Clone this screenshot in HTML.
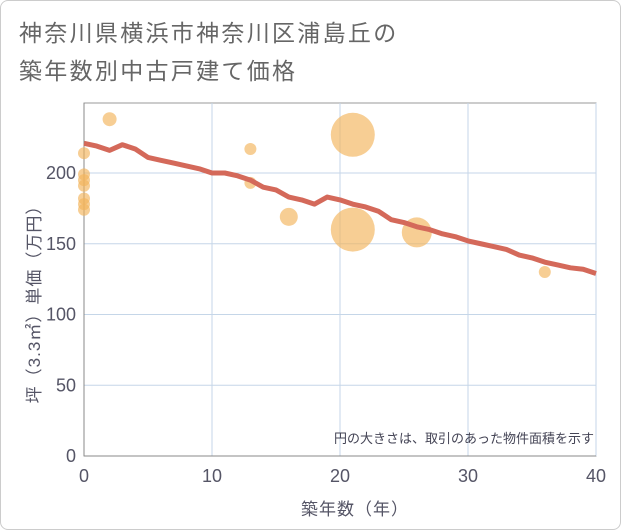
<!DOCTYPE html>
<html><head><meta charset="utf-8"><style>
body{margin:0;background:#fff;}
.wrap{width:619px;height:528px;border:1px solid #ccc;border-radius:8px;position:relative;overflow:hidden;font-family:"Liberation Sans","Noto Sans CJK JP",sans-serif;}
.title{position:absolute;left:18px;top:13px;font-size:23px;letter-spacing:2.3px;line-height:38px;color:#666;}
</style></head><body>
<div class="wrap">
<div class="title">神奈川県横浜市神奈川区浦島丘の<br>築年数別中古戸建て価格</div>
<svg id="chart" width="621" height="530" style="position:absolute;left:-1px;top:-1px"></svg>
</div>
<script>
const xTicks=[0,10,20,30,40];
const yTicks=[0,50,100,150,200];
const bubbleYears=[0,0,0,0,0,0,0,2,13,13,16,21,21,26,36];
const bubblePrices=[214,199,195,191,182,178,174,238,217,193,169,227,160,158,130];
const bubbleSizes=[6,6,6,6,6,6,6,7,6,6,9,22,22,15,6];
const lineYears=[0,1,2,3,4,5,6,7,8,9,10,11,12,13,14,15,16,17,18,19,20,21,22,23,24,25,26,27,28,29,30,31,32,33,34,35,36,37,38,39,40];
const linePrices=[221,219,216,220,217,211,209,207,205,203,200,200,198,195,190,188,183,181,178,183,181,178,176,173,167,165,162,160,157,155,152,150,148,146,142,140,137,135,133,132,129];
const NS="http://www.w3.org/2000/svg";
const svg=document.getElementById('chart');
const L=84,R=596,T=103,B=456;
const xs=v=>L+(v/40)*(R-L);
const ys=v=>B-v*(283/200);
function mk(t,a){const e=document.createElementNS(NS,t);for(const k in a)e.setAttribute(k,a[k]);svg.appendChild(e);return e;}
const bg=mk('rect',{x:L,y:T,width:R-L,height:B-T,fill:'#fff',stroke:'#999'});


xTicks.forEach(t=>{
 const g=mk('line',{x1:xs(t),x2:xs(t),y1:T,y2:B,stroke:'#c5d6e8'});
 
 
 const tx=mk('text',{x:xs(t),y:482,'text-anchor':'middle','font-size':18,fill:'#556'});
 tx.textContent=t;
 
 
});
yTicks.forEach(t=>{
 const g=mk('line',{x1:L,x2:R,y1:ys(t),y2:ys(t),stroke:'#c5d6e8'});
 
 
 const tx=mk('text',{x:76,y:ys(t)+6,'text-anchor':'end','font-size':18,fill:'#556'});
 tx.textContent=t;
 
 
});
const ax=mk('line',{x1:L,x2:L,y1:T,y2:B,stroke:'#888'});


const ax2=mk('line',{x1:L,x2:R,y1:B,y2:B,stroke:'#888'});


bubbleYears.forEach((yr,i)=>{
 const c=mk('circle',{cx:xs(yr),cy:ys(bubblePrices[i]),r:bubbleSizes[i],fill:'#f2b45a','fill-opacity':0.65});
 
 
});
const pl=mk('polyline',{points:lineYears.map((y,i)=>xs(y)+','+ys(linePrices[i])).join(' '),fill:'none',stroke:'#d4695a','stroke-width':5,'stroke-linejoin':'round'});


const note=mk('text',{x:594,y:443,'text-anchor':'end','font-size':13,fill:'#445'});
note.textContent='円の大きさは、取引のあった物件面積を示す';


const xt=mk('text',{x:355,y:515,'text-anchor':'middle','font-size':17,'letter-spacing':1,fill:'#556'});
xt.textContent='築年数（年）';


const yt=mk('text',{x:0,y:0,'text-anchor':'middle','font-size':17,'letter-spacing':1,fill:'#556',transform:'translate(40,300) rotate(-90)'});
yt.textContent='坪（3.3㎡）単価（万円）';


</script>
</body></html>
